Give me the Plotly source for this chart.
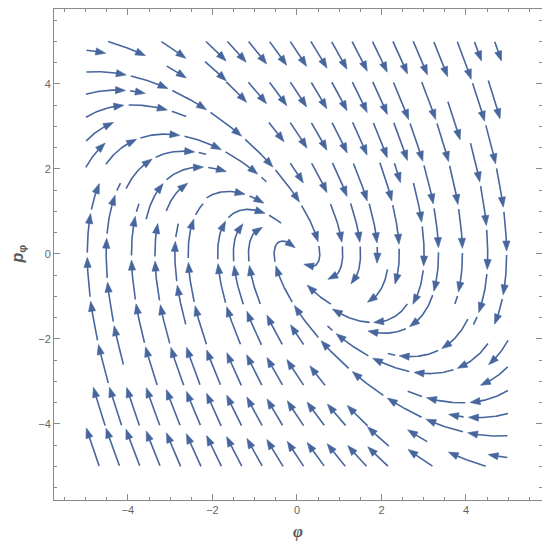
import numpy as np
import plotly.graph_objects as go

# ---- data: the phase-plane vector field  phi' = p ,  p' = -k*phi - b*p ----
phi_limits = [-5.0, 5.0]
p_limits = [-5.0, 5.0]
stiffness = 1.35
damping = 1.5
x_tick_values = [-4, -2, 0, 2, 4]
y_tick_values = [-4, -2, 0, 2, 4]
x_tick_labels = ["\u22124", "\u22122", "0", "2", "4"]
y_tick_labels = ["\u22124", "\u22122", "0", "2", "4"]

LINE_COLOR = "rgb(70,102,157)"
PX_X = 42.25  # approx px per unit (for dash / arrow sizing)
PX_Y = 42.5


def field(phi, p):
    return p, -stiffness * phi - damping * p


lo, hi = phi_limits
N = 21
cell = (hi - lo) / N
mask = np.zeros((N, N), dtype=int)


def cell_of(x, y):
    cx = min(max(int((x - lo) / cell), 0), N - 1)
    cy = min(max(int((y - p_limits[0]) / cell), 0), N - 1)
    return cx, cy


def integrate(x0, y0, sign, start_cell, owned):
    pts = []
    x, y = x0, y0
    cur = start_cell
    ds = 0.02
    total = 0.0
    for _ in range(4000):
        u, v = field(x, y)
        s = np.hypot(u, v)
        if s < 1e-4:
            break
        kx, ky = sign * u / s, sign * v / s
        xm, ym = x + 0.5 * ds * kx, y + 0.5 * ds * ky
        u2, v2 = field(xm, ym)
        s2 = np.hypot(u2, v2)
        if s2 < 1e-4:
            break
        nx, ny = x + ds * sign * u2 / s2, y + ds * sign * v2 / s2
        if not (lo <= nx <= hi and p_limits[0] <= ny <= p_limits[1]):
            break
        if np.hypot(nx, ny) < 0.12:
            break
        c = cell_of(nx, ny)
        if c != cur:
            if mask[c[1], c[0]]:
                break
            mask[c[1], c[0]] = 1
            owned.append(c)
            cur = c
        x, y = nx, ny
        pts.append((x, y))
        total += ds
        if total > 30:
            break
    return pts


def starting_cells():
    # spiral from the boundary inward
    xfirst, yfirst, xlast, ylast = 0, 1, N - 1, N - 1
    x, y = 0, 0
    direction = "right"
    out = []
    for _ in range(N * N):
        out.append((x, y))
        if direction == "right":
            x += 1
            if x >= xlast:
                xlast -= 1
                direction = "up"
        elif direction == "up":
            y += 1
            if y >= ylast:
                ylast -= 1
                direction = "left"
        elif direction == "left":
            x -= 1
            if x <= xfirst:
                xfirst += 1
                direction = "down"
        elif direction == "down":
            y -= 1
            if y <= yfirst:
                yfirst += 1
                direction = "right"
    return out


streamlines = []
for (cx, cy) in starting_cells():
    if mask[cy, cx]:
        continue
    x0 = lo + (cx + 0.5) * cell
    y0 = p_limits[0] + (cy + 0.5) * cell
    owned = [(cx, cy)]
    mask[cy, cx] = 1
    back = integrate(x0, y0, -1, (cx, cy), owned)
    fwd = integrate(x0, y0, +1, (cx, cy), owned)
    pts = back[::-1] + [(x0, y0)] + fwd
    if len(pts) * 0.02 < 0.45:
        for c in owned:
            mask[c[1], c[0]] = 0
        continue
    streamlines.append(np.array(pts))

# ---- split streamlines into dashes with arrowheads ----
SEG = 40.0   # px
GAP = 4.0    # px
HEAD_L = 10.0
HEAD_W = 3.6

lx, ly = [], []
ax_, ay_ = [], []
for pts in streamlines:
    X, Y = pts[:, 0], pts[:, 1]
    d = np.hypot(np.diff(X) * PX_X, np.diff(Y) * PX_Y)
    s = np.concatenate([[0], np.cumsum(d)])
    total = s[-1]
    start = 0.0
    while start < total - 4:
        end = min(start + SEG, total)
        seg_len = end - start
        has_head = seg_len > 16 or end < total
        body_end = end - (HEAD_L * 0.7 if has_head else 0)
        idx = (s >= start) & (s <= body_end)
        if idx.sum() >= 2:
            lx.extend(list(X[idx]) + [None])
            ly.extend(list(Y[idx]) + [None])
        if has_head:
            tx = np.interp(end, s, X)
            ty = np.interp(end, s, Y)
            bx = np.interp(end - HEAD_L, s, X)
            by = np.interp(end - HEAD_L, s, Y)
            dxp, dyp = (tx - bx) * PX_X, (ty - by) * PX_Y
            nrm = np.hypot(dxp, dyp)
            if nrm > 0:
                ux, uy = dxp / nrm, dyp / nrm
                bxp, byp = tx * PX_X - ux * HEAD_L, ty * PX_Y - uy * HEAD_L
                p1 = ((bxp - uy * HEAD_W) / PX_X, (byp + ux * HEAD_W) / PX_Y)
                p2 = ((bxp + uy * HEAD_W) / PX_X, (byp - ux * HEAD_W) / PX_Y)
                ax_.extend([tx, p1[0], p2[0], tx, None])
                ay_.extend([ty, p1[1], p2[1], ty, None])
        start = end + GAP

fig = go.Figure()
fig.add_trace(go.Scatter(x=lx, y=ly, mode="lines",
                         line=dict(color=LINE_COLOR, width=1.6),
                         hoverinfo="skip", showlegend=False))
fig.add_trace(go.Scatter(x=ax_, y=ay_, mode="lines", fill="toself",
                         fillcolor=LINE_COLOR,
                         line=dict(color=LINE_COLOR, width=0.6),
                         hoverinfo="skip", showlegend=False))

axis_common = dict(
    showgrid=False, zeroline=False, automargin=False,
    showline=True, linecolor="#8a8a8a", linewidth=1, mirror="allticks",
    ticks="inside", ticklen=6, tickcolor="#8a8a8a", tickwidth=1,
    tickfont=dict(family="Liberation Sans, Arial", size=11, color="#666666"),
    minor=dict(dtick=0.5, ticks="inside", ticklen=3, tickcolor="#8a8a8a", tickwidth=1),
)

fig.update_layout(
    width=542, height=540,
    margin=dict(l=46, r=8, t=1, b=48),
    paper_bgcolor="white", plot_bgcolor="white",
    xaxis=dict(range=[-5.75, 5.8], tickvals=x_tick_values, ticktext=x_tick_labels,
               **axis_common),
    yaxis=dict(range=[-5.79, 5.76], tickvals=y_tick_values, ticktext=y_tick_labels,
               **axis_common),
    annotations=[
        dict(text="<b><i>\u03c6</i></b>", xref="paper", yref="paper", x=0.5, y=0,
             xanchor="center", yanchor="middle", yshift=-31, showarrow=False,
             font=dict(family="Liberation Serif, Times New Roman", size=17, color="#555555")),
        dict(text="<b><i>p</i></b><sub><b>\u03c6</b></sub>", xref="paper", yref="paper",
             x=0, y=0.5, xanchor="center", yanchor="middle", xshift=-36, textangle=-90,
             showarrow=False,
             font=dict(family="Liberation Sans, Arial", size=16, color="#555555")),
    ],
)

fig.write_html("out.html")
